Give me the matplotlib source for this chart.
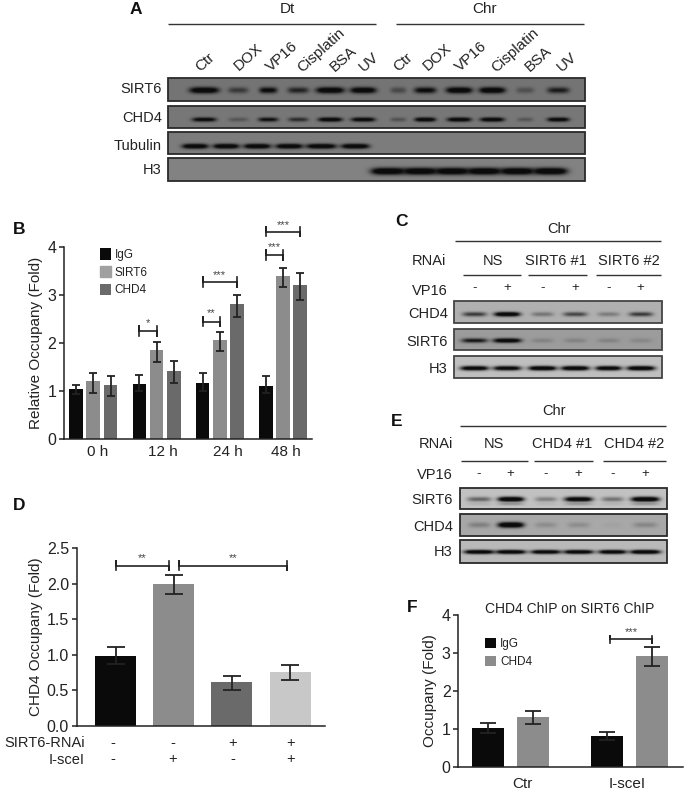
#!/usr/bin/env python

"""
Western blot and ChIP figure, panels A to F.
Blots are drawn as small images built from band strengths read off the picture.
"""

import numpy as np
import matplotlib
matplotlib.use('Agg')
import matplotlib.pyplot as plt
from matplotlib.patches import Rectangle

plt.rcParams['font.family'] = ['Liberation Sans', 'DejaVu Sans']
plt.rcParams['text.color'] = '#222222'

BLACK = '#0a0a0a'
GREY_D = '#6a6a6a'
GREY_M = '#8c8c8c'
GREY_L = '#c8c8c8'
LINE = '#222222'

# panel A
a_treatments = ['Ctr', 'DOX', 'VP16', 'Cisplatin', 'BSA', 'UV']
a_sirt6 = [.95, .40, .75, .55, .95, .90, .30, .75, .95, .95, .25, .60]
a_sirt6_w = [14.5, 10, 9, 10.5, 14, 13, 8, 11, 13, 13, 9, 11]
a_chd4 = [.80, .22, .70, .50, .90, .85, .25, .90, .90, .90, .22, .85]
a_chd4_w = [12, 10, 10, 10, 12, 12, 8, 10.5, 12, 12, 8, 11]
a_tubulin = [.95, .95, .95, .95, .95, .95]
a_tubulin_w = [13, 13, 13.5, 13.5, 15, 14]
a_h3 = [1, 1, 1, 1, 1, 1]

# panel B
b_times = ['0 h', '12 h', '24 h', '48 h']
b_igg = [1.03, 1.15, 1.16, 1.11]
b_igg_lo = [0.93, 1.00, 1.00, 0.95]
b_igg_hi = [1.13, 1.33, 1.38, 1.32]
b_sirt6 = [1.20, 1.85, 2.07, 3.40]
b_sirt6_lo = [0.95, 1.60, 1.84, 3.17]
b_sirt6_hi = [1.38, 2.03, 2.23, 3.57]
b_chd4 = [1.13, 1.42, 2.81, 3.21]
b_chd4_lo = [0.89, 1.17, 2.54, 2.90]
b_chd4_hi = [1.32, 1.62, 3.01, 3.46]

# panel C
c_chd4 = [.50, .95, .25, .45, .22, .50]
c_sirt6 = [.65, .90, .12, .12, .12, .10]
c_h3 = [.90, .85, .95, .95, .90, .95]
c_groups = ['NS', 'SIRT6 #1', 'SIRT6 #2']

# panel D
d_vals = [0.98, 2.00, 0.62, 0.76]
d_lo = [0.87, 1.85, 0.50, 0.64]
d_hi = [1.11, 2.12, 0.70, 0.85]
d_rnai = ['-', '-', '+', '+']
d_scei = ['-', '+', '-', '+']

# panel E
e_sirt6 = [.35, .98, .25, .90, .30, .98]
e_chd4 = [.18, 1.0, .12, .12, .03, .15]
e_h3 = [.95, .95, .90, .92, .92, .98]
e_groups = ['NS', 'CHD4 #1', 'CHD4 #2']

# panel F
f_groups = ['Ctr', 'I-sceI']
f_igg = [1.03, 0.83]
f_igg_lo = [0.90, 0.72]
f_igg_hi = [1.17, 0.93]
f_chd4 = [1.33, 2.93]
f_chd4_lo = [1.13, 2.66]
f_chd4_hi = [1.47, 3.15]

vp16_signs = ['-', '+', '-', '+', '-', '+']


def blot(ax, box, centers, strength, widths, yc, thick, bg, edge='#2a2a2a', ghost=0):
    # background grey with soft dark bands on top
    x0, x1, y0, y1 = box
    xx, yy = np.meshgrid(np.arange(x0, x1, 0.5), np.arange(y0, y1, 0.5))
    img = np.full(xx.shape, bg, dtype=float)
    for c, s, w in zip(centers, strength, widths):
        along = np.exp(-((xx - c) / w) ** 4)
        band = np.clip(1.5 * s * along * np.exp(-((yy - yc) / thick) ** 2), 0, 1)
        if ghost:
            band = np.maximum(band, ghost * s * along * np.exp(-((yy - yc - 4.5) / 1.5) ** 2))
        img = img * (1 - band) + 0.05 * band
    ax.imshow(img, cmap='gray', vmin=0, vmax=1, extent=(x0, x1, y1, y0),
              aspect='auto', interpolation='bilinear')
    ax.add_patch(Rectangle((x0, y0), x1 - x0, y1 - y0, fill=False, ec=edge, lw=1.3))


def hline(ax, x0, x1, y):
    ax.plot([x0, x1], [y, y], color='#333333', lw=1.0, solid_capstyle='butt')


def bracket(ax, x0, x1, y, cap, stars, star_y):
    ax.plot([x0, x0, x0, x1, x1, x1], [y - cap, y + cap, y, y, y - cap, y + cap],
            color=LINE, lw=1.2, clip_on=False)
    ax.text((x0 + x1) / 2, star_y, stars, ha='center', va='center', fontsize=8, color='#444444')


def err(ax, x, vals, lo, hi, cap):
    vals = np.array(vals)
    yerr = [vals - np.array(lo), np.array(hi) - vals]
    ax.errorbar(x, vals, yerr=yerr, fmt='none', ecolor=LINE, elinewidth=1.3,
                capsize=cap, capthick=1.3)


def style_axis(ax):
    ax.patch.set_alpha(0)
    ax.spines['top'].set_visible(False)
    ax.spines['right'].set_visible(False)
    ax.spines['left'].set_linewidth(1.1)
    ax.spines['bottom'].set_linewidth(1.1)
    ax.spines['left'].set_color(LINE)
    ax.spines['bottom'].set_color(LINE)
    ax.tick_params(axis='y', labelsize=11.5, length=3.5, width=1.1, pad=2, color=LINE, labelcolor=LINE)
    ax.set_xticks([])


def px_axes(fig, left, right, top, bottom):
    return fig.add_axes([left / 685, 1 - bottom / 792, (right - left) / 685, (bottom - top) / 792])


fig = plt.figure(figsize=(6.85, 7.92), dpi=100)

# page axes in pixels, holds the blots and loose labels
pg = fig.add_axes([0, 0, 1, 1])

for label, x, y in [('A', 136, 10), ('B', 19, 230), ('C', 402, 222),
                    ('D', 19, 506), ('E', 397, 422), ('F', 412, 607)]:
    pg.text(x, y, label, fontsize=12.5, fontweight='bold', ha='center', va='center', color='#111111')

# panel A
a_x = [204, 238, 268, 298, 330, 363, 398, 425, 459, 492, 525, 558]
a_tub_x = [195, 226, 257, 289, 321, 355]
a_h3_x = [388, 420, 452, 484, 517, 550]
a_lab_x = [205, 248, 282, 321, 343, 369, 403, 437, 471, 515, 538, 567]
a_lab_y = [62, 57, 57, 50, 59, 62, 62, 57, 57, 50, 59, 62]
for name, x, y in zip(a_treatments * 2, a_lab_x, a_lab_y):
    pg.text(x, y, name, rotation=42, ha='center', va='center', fontsize=11)
pg.text(287, 9, 'Dt', ha='center', va='center', fontsize=11)
pg.text(485, 9, 'Chr', ha='center', va='center', fontsize=11)
hline(pg, 168, 376, 23.7)
hline(pg, 396, 584, 23.7)
blot(pg, (168, 585, 78, 101), a_x, a_sirt6, a_sirt6_w, 90, 3.0, 0.46)
blot(pg, (168, 585, 106, 128), a_x, a_chd4, a_chd4_w, 119.3, 2.1, 0.47)
blot(pg, (168, 585, 132, 154), a_tub_x, a_tubulin, a_tubulin_w, 146, 2.4, 0.49)
blot(pg, (168, 585, 158, 181), a_h3_x, a_h3, [17] * 6, 171, 3.4, 0.51)
for name, y in [('SIRT6', 89), ('CHD4', 118), ('Tubulin', 146), ('H3', 170)]:
    pg.text(162, y, name, ha='right', va='center', fontsize=10.5)

# panel C
c_x = np.array([283, 381, 487, 585, 685, 782]) / 3 + 380
pg.text(559, 229, 'Chr', ha='center', va='center', fontsize=10.5)
hline(pg, 455, 661, 241)
pg.text(446, 261, 'RNAi', ha='right', va='center', fontsize=10.5)
for name, x in zip(c_groups, [493, 556, 629]):
    pg.text(x, 261, name, ha='center', va='center', fontsize=10.5)
hline(pg, 463, 521, 274.7)
hline(pg, 528, 587, 274.7)
hline(pg, 596, 661, 274.7)
pg.text(448, 291, 'VP16', ha='right', va='center', fontsize=10.5)
for s, x in zip(vp16_signs, c_x):
    pg.text(x, 288, s, ha='center', va='center', fontsize=9.5)
blot(pg, (454, 662, 301, 323), c_x, c_chd4, [12, 13, 11, 12, 11, 12], 314, 2.2, 0.69, '#444444')
blot(pg, (454, 662, 329, 350), c_x, c_sirt6, [13, 14, 11, 11, 11, 11], 340.3, 2.2, 0.61, '#444444')
blot(pg, (454, 662, 356, 378), c_x, c_h3, [14, 14, 14, 14, 13, 14], 368, 2.2, 0.75, '#444444')
for name, y in [('CHD4', 314), ('SIRT6', 342), ('H3', 369)]:
    pg.text(448, y, name, ha='right', va='center', fontsize=10.5)

# panel E
e_x = np.array([297, 392, 497, 595, 697, 795]) / 3 + 380
pg.text(554, 411, 'Chr', ha='center', va='center', fontsize=10.5)
hline(pg, 460, 666, 426)
pg.text(453, 444, 'RNAi', ha='right', va='center', fontsize=10.5)
for name, x in zip(e_groups, [494, 562, 634]):
    pg.text(x, 444, name, ha='center', va='center', fontsize=10.5)
hline(pg, 461, 528, 461)
hline(pg, 534, 593, 461)
hline(pg, 603, 666, 461)
pg.text(453, 475, 'VP16', ha='right', va='center', fontsize=10.5)
for s, x in zip(vp16_signs, e_x):
    pg.text(x, 474, s, ha='center', va='center', fontsize=9.5)
blot(pg, (460, 667, 488, 509), e_x, e_sirt6, [12, 13, 11, 14, 11, 14], 499, 2.4, 0.76, ghost=0.3)
blot(pg, (460, 667, 514, 536), e_x, e_chd4, [11, 13, 11, 11, 10, 12], 524.7, 2.7, 0.66)
blot(pg, (460, 667, 540, 563), e_x, e_h3, [15, 15, 15, 15, 14, 15], 551.7, 2.0, 0.73)
for name, y in [('SIRT6', 500), ('CHD4', 527), ('H3', 552)]:
    pg.text(453, y, name, ha='right', va='center', fontsize=10.5)

# loose labels under the bar panels
for name, x in zip(b_times, [98, 163, 228, 286]):
    pg.text(x, 452, name, ha='center', va='center', fontsize=11)
pg.text(85, 743, 'SIRT6-RNAi', ha='right', va='center', fontsize=10.5)
pg.text(85, 760, 'I-sceI', ha='right', va='center', fontsize=10.5)
for s1, s2, x in zip(d_rnai, d_scei, [113, 173, 233, 291]):
    pg.text(x, 743, s1, ha='center', va='center', fontsize=10.5)
    pg.text(x, 759, s2, ha='center', va='center', fontsize=10.5)
for name, x in zip(f_groups, [522, 627]):
    pg.text(x, 784, name, ha='center', va='center', fontsize=11)

pg.set_xlim(0, 685)
pg.set_ylim(792, 0)
pg.axis('off')

# panel B
ax = px_axes(fig, 64, 312, 247.3, 438.7)
style_axis(ax)
g = np.arange(4)
step = 0.272
wid = 0.216
ax.bar(g - step, b_igg, wid, color=BLACK, label='IgG')
ax.bar(g, b_sirt6, wid, color=GREY_M, label='SIRT6')
ax.bar(g + step, b_chd4, wid, color=GREY_D, label='CHD4')
err(ax, g - step, b_igg, b_igg_lo, b_igg_hi, 3.2)
err(ax, g, b_sirt6, b_sirt6_lo, b_sirt6_hi, 3.2)
err(ax, g + step, b_chd4, b_chd4_lo, b_chd4_hi, 3.2)
ax.set_xlim(-0.464, 3.46)
ax.set_ylim(0, 4)
ax.set_yticks([0, 1, 2, 3, 4])
ax.set_ylabel('Relative Occupany (Fold)', fontsize=11, labelpad=3, color=LINE)
bracket(ax, 1 - step, 1, 2.25, 0.1, '*', 2.41)
bracket(ax, 2 - step, 2, 2.445, 0.1, '**', 2.62)
bracket(ax, 2 - step, 2 + step, 3.27, 0.1, '***', 3.42)
bracket(ax, 3 - step, 3, 3.84, 0.1, '***', 4.0)
bracket(ax, 3 - step, 3 + step, 4.33, 0.1, '***', 4.47)
leg = ax.legend(loc='upper left', bbox_to_anchor=(0.145, 0.995), frameon=False, fontsize=8.5,
                handlelength=0.9, handleheight=1.1, handletextpad=0.35, labelspacing=0.42,
                borderpad=0, borderaxespad=0)
leg.get_patches()[1].set_color('#a0a0a0')
for t in leg.get_texts():
    t.set_color(LINE)

# panel D
ax = px_axes(fig, 76.7, 325, 548.3, 725.7)
style_axis(ax)
d_x = np.arange(4)
ax.bar(d_x, d_vals, 0.705, color=[BLACK, GREY_M, GREY_D, GREY_L])
err(ax, d_x, d_vals, d_lo, d_hi, 6.5)
ax.set_xlim(-0.67, 3.6)
ax.set_ylim(0, 2.5)
ax.set_yticks([0, 0.5, 1.0, 1.5, 2.0, 2.5])
ax.set_yticklabels(['0.0', '0.5', '1.0', '1.5', '2.0', '2.5'])
ax.set_ylabel('CHD4 Occupany (Fold)', fontsize=11, labelpad=3, color=LINE)
bracket(ax, 0, 0.924, 2.256, 0.065, '**', 2.36)
bracket(ax, 1.096, 2.94, 2.256, 0.065, '**', 2.36)

# panel F
ax = px_axes(fig, 458.3, 683, 614.7, 767.3)
style_axis(ax)
f_x = np.arange(2)
off = 0.188
ax.bar(f_x - off, f_igg, 0.267, color=BLACK, label='IgG')
ax.bar(f_x + off, f_chd4, 0.267, color=GREY_M, label='CHD4')
err(ax, f_x - off, f_igg, f_igg_lo, f_igg_hi, 5.5)
err(ax, f_x + off, f_chd4, f_chd4_lo, f_chd4_hi, 5.5)
ax.set_xlim(-0.441, 1.45)
ax.set_ylim(0, 4)
ax.set_yticks([0, 1, 2, 3, 4])
ax.set_ylabel('Occupany (Fold)', fontsize=11, labelpad=3, color=LINE)
ax.text(0.495, 1.035, 'CHD4 ChIP on SIRT6 ChIP', transform=ax.transAxes, fontsize=10,
        ha='center', va='center', color=LINE)
bracket(ax, 0.836, 1 + off, 3.36, 0.09, '***', 3.55)
leg = ax.legend(loc='upper left', bbox_to_anchor=(0.12, 0.85), frameon=False, fontsize=8.5,
                handlelength=0.9, handleheight=1.0, handletextpad=0.35, labelspacing=0.5,
                borderpad=0, borderaxespad=0)
for t in leg.get_texts():
    t.set_color(LINE)

plt.savefig('out.png', dpi=100)
